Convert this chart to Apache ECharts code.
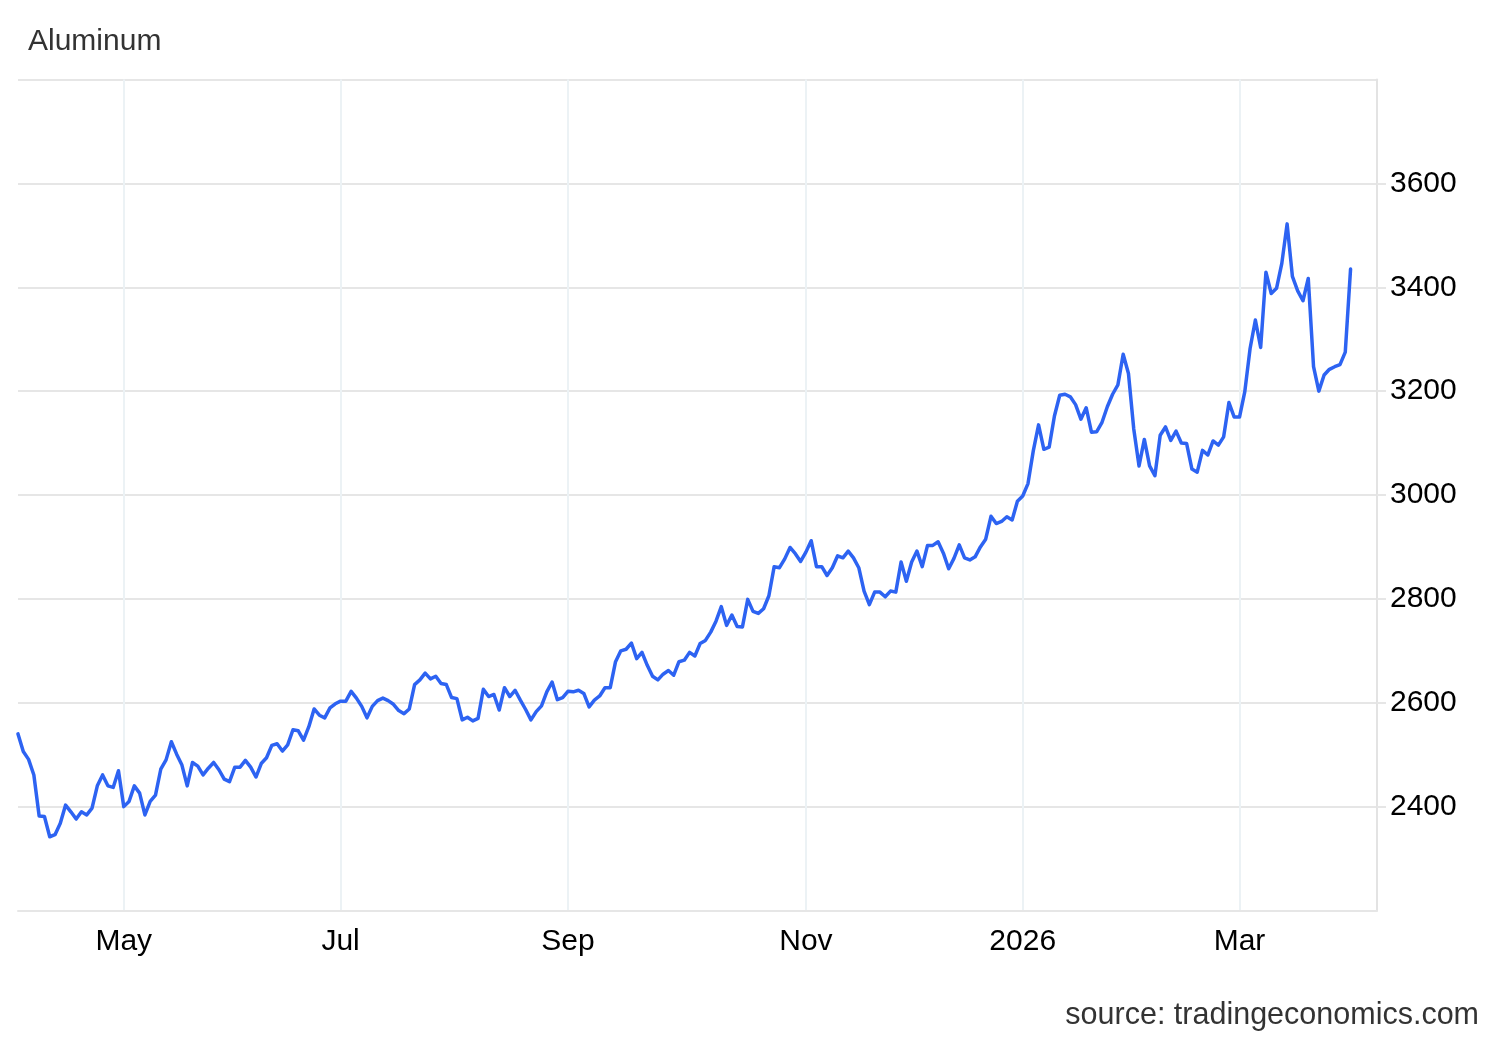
<!DOCTYPE html>
<html>
<head>
<meta charset="utf-8">
<script src="https://cdn.jsdelivr.net/npm/echarts@6/dist/echarts.min.js"></script>
<style>
  html, body { margin: 0; padding: 0; background: #ffffff; }
  #chart { width: 1500px; height: 1040px; }
</style>
</head>
<body>
<div id="chart"></div>
<script>
// ---- Data (LME trading days, Apr 2025 - Mar 2026) ----
const titleText = "Aluminum";
const sourceText = "source: tradingeconomics.com";
const startDate = "2025-04-01";
const holidays = ["2025-04-18","2025-04-21","2025-05-05","2025-05-26","2025-08-25",
                  "2025-12-25","2025-12-26","2026-01-01","2026-04-03","2026-04-06"];
const tickMonths = ["2025-05","2025-07","2025-09","2025-11","2026-01","2026-03"];
const tickLabels = ["May","Jul","Sep","Nov","2026","Mar"];
const yTicks = [2400, 2600, 2800, 3000, 3200, 3400, 3600];

const valuesAprMay = [2540,2506,2491,2461,2382,2381,2342,2346,2368,2403,2390,2376,2390,2384,2397,2440,2461,2440,2437,2469,
  2400,2410,2440,2426,2384,2410,2422,2472,2490,2525,2501,2480,2440,2485,2478,2461,2474,2485,2471,2453,2448,2476,2476];
const valuesJunJul = [2489,2476,2457,2483,2494,2518,2521,2507,2519,2548,2546,2528,2554,2588,2576,2571,2590,2598,2603,2603,
  2622,2609,2593,2571,2593,2604,2609,2604,2597,2585,2579,2588,2635,2644,2657,2646,2651,2637,2635,2610,2608,2567,2572,2565];
const valuesAugSep = [2570,2626,2612,2616,2586,2629,2612,2624,2605,2587,2567,2583,2594,2621,2640,2606,2610,2622,2621,2624,
  2618,2592,2605,2613,2629,2629,2679,2700,2703,2715,2685,2697,2672,2651,2644,2655,2662,2653,2679,2682,2697,2690,2714];
const valuesOctNov = [2720,2736,2757,2785,2749,2769,2747,2746,2799,2776,2772,2781,2806,2862,2860,2877,2899,2887,2872,2890,
  2912,2862,2862,2845,2860,2883,2879,2892,2879,2860,2815,2789,2813,2813,2804,2815,2813,2871,2834,2871,2892,2862,2903,2903];
const valuesDecJan = [2910,2888,2858,2878,2904,2879,2875,2881,2900,2915,2959,2945,2949,2958,2952,2988,2998,3022,3085,3135,
  3088,3092,3152,3192,3194,3189,3174,3146,3168,3121,3122,3140,3170,3194,3212,3271,3234,3127,3056,3107,3056,3037];
const valuesFebMar = [3115,3131,3105,3123,3100,3099,3050,3044,3086,3077,3104,3096,3112,3178,3150,3150,3199,3282,3337,3284,
  3429,3388,3398,3446,3522,3421,3393,3374,3417,3247,3200,3231,3242,3247,3251,3275,3435];
const paddingDays = 5;

// ---- Build categories ----
const values = [].concat(valuesAprMay, valuesJunJul, valuesAugSep, valuesOctNov, valuesDecJan, valuesFebMar);
function pad(n){ return (n < 10 ? "0" : "") + n; }
function fmt(d){ return d.getUTCFullYear() + "-" + pad(d.getUTCMonth()+1) + "-" + pad(d.getUTCDate()); }
const dates = [];
(function(){
  const total = values.length + paddingDays;
  const d = new Date(startDate + "T00:00:00Z");
  while (dates.length < total) {
    const wd = d.getUTCDay();
    const s = fmt(d);
    if (wd !== 0 && wd !== 6 && holidays.indexOf(s) < 0) dates.push(s);
    d.setUTCDate(d.getUTCDate() + 1);
  }
})();
const seriesData = dates.map((d, i) => i < values.length ? values[i] : null);
const tickIndex = {};
dates.forEach((d, i) => {
  const m = d.slice(0, 7);
  if (i > 0 && dates[i-1].slice(0, 7) !== m) {
    const k = tickMonths.indexOf(m);
    if (k >= 0) tickIndex[i] = tickLabels[k];
  }
});
const isTick = (idx) => Object.prototype.hasOwnProperty.call(tickIndex, idx);

const FONT = '"Liberation Sans", Arial, Helvetica, sans-serif';
const chart = echarts.init(document.getElementById('chart'), null, { renderer: 'canvas' });
chart.setOption({
  animation: false,
  backgroundColor: '#ffffff',
  grid: { left: 18, right: 123, top: 79.5, bottom: 129.5, containLabel: false },
  xAxis: {
    type: 'category',
    data: dates,
    boundaryGap: false,
    axisLine: { show: true, lineStyle: { color: '#e6e6e6', width: 2 } },
    axisTick: { show: false },
    axisLabel: {
      interval: (idx) => isTick(idx),
      formatter: (val, idx) => tickIndex[idx] || '',
      fontSize: 30, color: '#000', margin: 16, fontFamily: FONT
    },
    splitLine: { show: true, interval: (idx) => isTick(idx), lineStyle: { color: '#ecf2f5', width: 2 } }
  },
  yAxis: {
    type: 'value',
    position: 'right',
    min: 2200, max: 3800, interval: 200,
    axisLine: { show: true, lineStyle: { color: '#e3e3e3', width: 2 } },
    axisTick: { show: true, inside: false, length: 9, lineStyle: { color: '#e6e6e6', width: 2 } },
    axisLabel: {
      showMinLabel: false, showMaxLabel: false,
      formatter: (v) => yTicks.indexOf(v) >= 0 ? String(v) : '',
      fontSize: 30, color: '#000', margin: 13, fontFamily: FONT
    },
    splitLine: { show: true, lineStyle: { color: '#e6e6e6', width: 2 } }
  },
  graphic: [
    { type: 'text', z: 10, style: { text: titleText, x: 28, y: 42, fill: '#333', font: '30px ' + FONT,
      textAlign: 'left', textVerticalAlign: 'middle', align: 'left', verticalAlign: 'middle' } },
    { type: 'text', z: 10, style: { text: sourceText, x: 1479, y: 1016, fill: '#333', font: '30.5px ' + FONT,
      textAlign: 'right', textVerticalAlign: 'middle', align: 'right', verticalAlign: 'middle' } }
  ],
  series: [{
    type: 'line',
    data: seriesData,
    showSymbol: false,
    symbol: 'none',
    connectNulls: false,
    lineStyle: { color: '#2d63f2', width: 3.5, join: 'round', cap: 'round' },
    emphasis: { disabled: true }
  }]
});
</script>
</body>
</html>
